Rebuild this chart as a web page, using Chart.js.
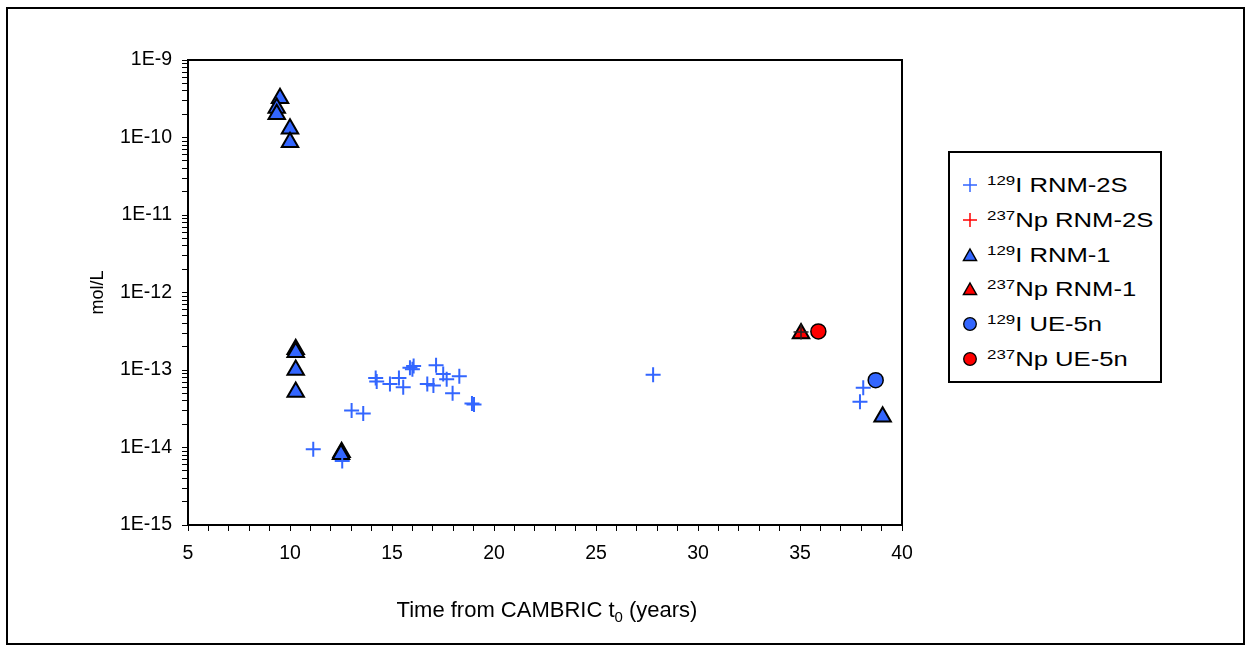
<!DOCTYPE html>
<html>
<head>
<meta charset="utf-8">
<script src="https://cdn.jsdelivr.net/npm/chart.js@4.4.1/dist/chart.umd.min.js"></script>
<style>
  body { margin: 0; background: #fff; font-family: "Liberation Sans", Arial, sans-serif; }
  #wrap { position: relative; width: 1251px; height: 653px; }
  #xtitle { position: absolute; left: 547px; top: 597px; transform: translateX(-50%);
    font-size: 22px; line-height: 26px; white-space: nowrap; color: #000; }
  #xtitle sub { font-size: 15px; vertical-align: baseline; position: relative; top: 5px; }
  #legend { position: absolute; left: 948px; top: 151px; width: 210px; height: 228px;
    border: 2px solid #000; background: #fff; }
  .row { position: absolute; left: 0; height: 30px; display: flex; align-items: center;
    font-size: 20.5px; white-space: nowrap; color: #000; }
  .row svg { margin-left: 12px; margin-right: 9px; }
  .row span { display: inline-block; transform: scaleX(1.25); transform-origin: left center; }
  .row sup { font-size: 13.5px; vertical-align: baseline; position: relative; top: -7px; }
</style>
</head>
<body>
<div id="wrap">
  <canvas id="c" width="1251" height="653"></canvas>
  <div id="xtitle">Time from CAMBRIC t<sub>0</sub> (years)</div>
  <div id="legend"></div>
</div>
<script>
// 129I RNM-2S (blue crosses)
var iRnm2sX = [11.14, 12.56, 13.02, 13.59, 14.2, 14.25, 14.9, 15.34, 15.55, 15.88, 16.0, 16.06,
  16.73, 17.03, 17.16, 17.51, 17.68, 17.97, 18.3, 18.92, 19.02, 27.8, 37.94, 38.1];
var iRnm2sY = [9.5e-15, 6.7e-15, 3.0e-14, 2.75e-14, 7.9e-14, 7.1e-14, 6.6e-14, 7.9e-14, 6.0e-14, 1.07e-13, 1.02e-13, 1.13e-13,
  6.6e-14, 6.3e-14, 1.15e-13, 8.9e-14, 7.6e-14, 5.0e-14, 8.3e-14, 3.7e-14, 3.6e-14, 8.7e-14, 3.9e-14, 5.9e-14];
// 237Np RNM-2S (red cross)
var npRnm2sX = [35.05];
var npRnm2sY = [3.1e-13];
// 129I RNM-1 (blue triangles)
var iRnm1X = [9.51, 9.35, 9.35, 10.0, 10.0, 10.28, 10.28, 10.28, 10.28, 12.53, 12.5, 39.05];
var iRnm1Y = [3.2e-10, 2.4e-10, 2.0e-10, 1.3e-10, 8.7e-11, 1.85e-13, 1.7e-13, 1.0e-13, 5.2e-14, 8.7e-15, 8.2e-15, 2.5e-14];
// 237Np RNM-1 (red triangle)
var npRnm1X = [35.05];
var npRnm1Y = [2.95e-13];
// 129I UE-5n (blue circle)
var iUe5nX = [38.71];
var iUe5nY = [7.4e-14];
// 237Np UE-5n (red circle)
var npUe5nX = [35.9];
var npUe5nY = [3.15e-13];

var xTicks = [];
for (var i = 5; i <= 40; i++) xTicks.push(i);

var BLUE = '#3366FF';
var RED = '#FF0000';
var FONT = {family: '"Liberation Sans", Arial, sans-serif', size: 19.5};

function pts(xs, ys){
	return xs.map(function(x, i){ return {x: x, y: ys[i]}; });
}

var frame = {
	id: 'frame',
	beforeDraw: function(chart){
		var c = chart.ctx;
		c.save();
		c.fillStyle = '#fff';
		c.fillRect(0, 0, chart.width, chart.height);
		c.strokeStyle = '#000';
		c.lineWidth = 2;
		c.strokeRect(7, 8, 1237, 636);
		c.restore();
	},
	beforeDatasetsDraw: function(chart){
		var a = chart.chartArea, c = chart.ctx;
		c.save();
		c.strokeStyle = '#000';
		c.lineWidth = 2;
		c.strokeRect(a.left, a.top, a.right - a.left, a.bottom - a.top);
		c.restore();
	}
};

var config = {
	type: 'scatter',
	data: {
		datasets: [
			{label: '129I RNM-1', data: pts(iRnm1X, iRnm1Y), pointStyle: 'triangle', pointRadius: 9.5,
				backgroundColor: BLUE, borderColor: '#000', borderWidth: 2, order: 4},
			{label: '237Np RNM-1', data: pts(npRnm1X, npRnm1Y), pointStyle: 'triangle', pointRadius: 9.5,
				backgroundColor: RED, borderColor: '#000', borderWidth: 2, order: 3},
			{label: '129I UE-5n', data: pts(iUe5nX, iUe5nY), pointStyle: 'circle', pointRadius: 7.5,
				backgroundColor: BLUE, borderColor: '#000', borderWidth: 1.5, order: 5},
			{label: '237Np UE-5n', data: pts(npUe5nX, npUe5nY), pointStyle: 'circle', pointRadius: 7.5,
				backgroundColor: RED, borderColor: '#000', borderWidth: 1.5, order: 6},
			{label: '129I RNM-2S', data: pts(iRnm2sX, iRnm2sY), pointStyle: 'cross', pointRadius: 7.5,
				backgroundColor: BLUE, borderColor: BLUE, borderWidth: 2, order: 1},
			{label: '237Np RNM-2S', data: pts(npRnm2sX, npRnm2sY), pointStyle: 'cross', pointRadius: 7.5,
				backgroundColor: RED, borderColor: '#222', borderWidth: 1.5, order: 2}
		]
	},
	options: {
		responsive: false,
		animation: false,
		events: [],
		layout: {padding: {left: 87, right: 349, top: 60, bottom: 88}},
		plugins: {legend: {display: false}, tooltip: {enabled: false}},
		scales: {
			x: {
				type: 'linear', min: 5, max: 40,
				afterBuildTicks: function(s){ s.ticks = xTicks.map(function(v){ return {value: v}; }); },
				afterFit: function(s){ s.height = 40; },
				ticks: {autoSkip: false, maxRotation: 0, color: '#000', font: FONT, padding: 11,
					callback: function(v){ return v % 5 === 0 ? String(v) : ''; }},
				grid: {drawOnChartArea: false, tickLength: 6, color: '#000', lineWidth: 1},
				border: {color: '#000', width: 2}
			},
			y: {
				type: 'logarithmic', min: 1e-15, max: 1e-9,
				afterBuildTicks: function(s){
					var t = [];
					for (var e = -15; e < -9; e++)
						for (var m = 1; m < 10; m++) t.push({value: m * Math.pow(10, e)});
					t.push({value: 1e-9});
					s.ticks = t;
				},
				afterFit: function(s){ s.width = 101; },
				ticks: {autoSkip: false, color: '#000', font: FONT, padding: 10,
					callback: function(v){
						var l = Math.log10(v), r = Math.round(l);
						return Math.abs(l - r) < 1e-6 ? '1E' + r : '';
					}},
				grid: {drawOnChartArea: false, tickLength: 6, color: '#000', lineWidth: 1},
				border: {color: '#000', width: 2},
				title: {display: true, text: 'mol/L', color: '#000',
					font: {family: '"Liberation Sans", Arial, sans-serif', size: 18}, padding: 0}
			}
		}
	},
	plugins: [frame]
};

var myChart = new Chart(document.getElementById('c'), config);

// legend with superscript mass numbers
var items = [
	['129', 'I RNM-2S', 'cross', BLUE],
	['237', 'Np RNM-2S', 'cross', RED],
	['129', 'I RNM-1', 'tri', BLUE],
	['237', 'Np RNM-1', 'tri', RED],
	['129', 'I UE-5n', 'circ', BLUE],
	['237', 'Np UE-5n', 'circ', RED]
];
function marker(kind, col){
	var s = '<svg width="16" height="16" viewBox="0 0 16 16">';
	if (kind === 'cross') s += '<path d="M8 1V15M1 8H15" stroke="' + col + '" stroke-width="1.5"/>';
	if (kind === 'tri') s += '<path d="M8 2L14.5 13.5H1.5Z" fill="' + col + '" stroke="#000" stroke-width="1.5"/>';
	if (kind === 'circ') s += '<circle cx="8" cy="8" r="6.3" fill="' + col + '" stroke="#000" stroke-width="1.3"/>';
	return s + '</svg>';
}
var lg = document.getElementById('legend');
items.forEach(function(it, i){
	var d = document.createElement('div');
	d.className = 'row';
	d.style.top = (17 + i * 34.8) + 'px';
	d.innerHTML = marker(it[2], it[3]) + '<span><sup>' + it[0] + '</sup>' + it[1] + '</span>';
	lg.appendChild(d);
});
</script>
</body>
</html>
